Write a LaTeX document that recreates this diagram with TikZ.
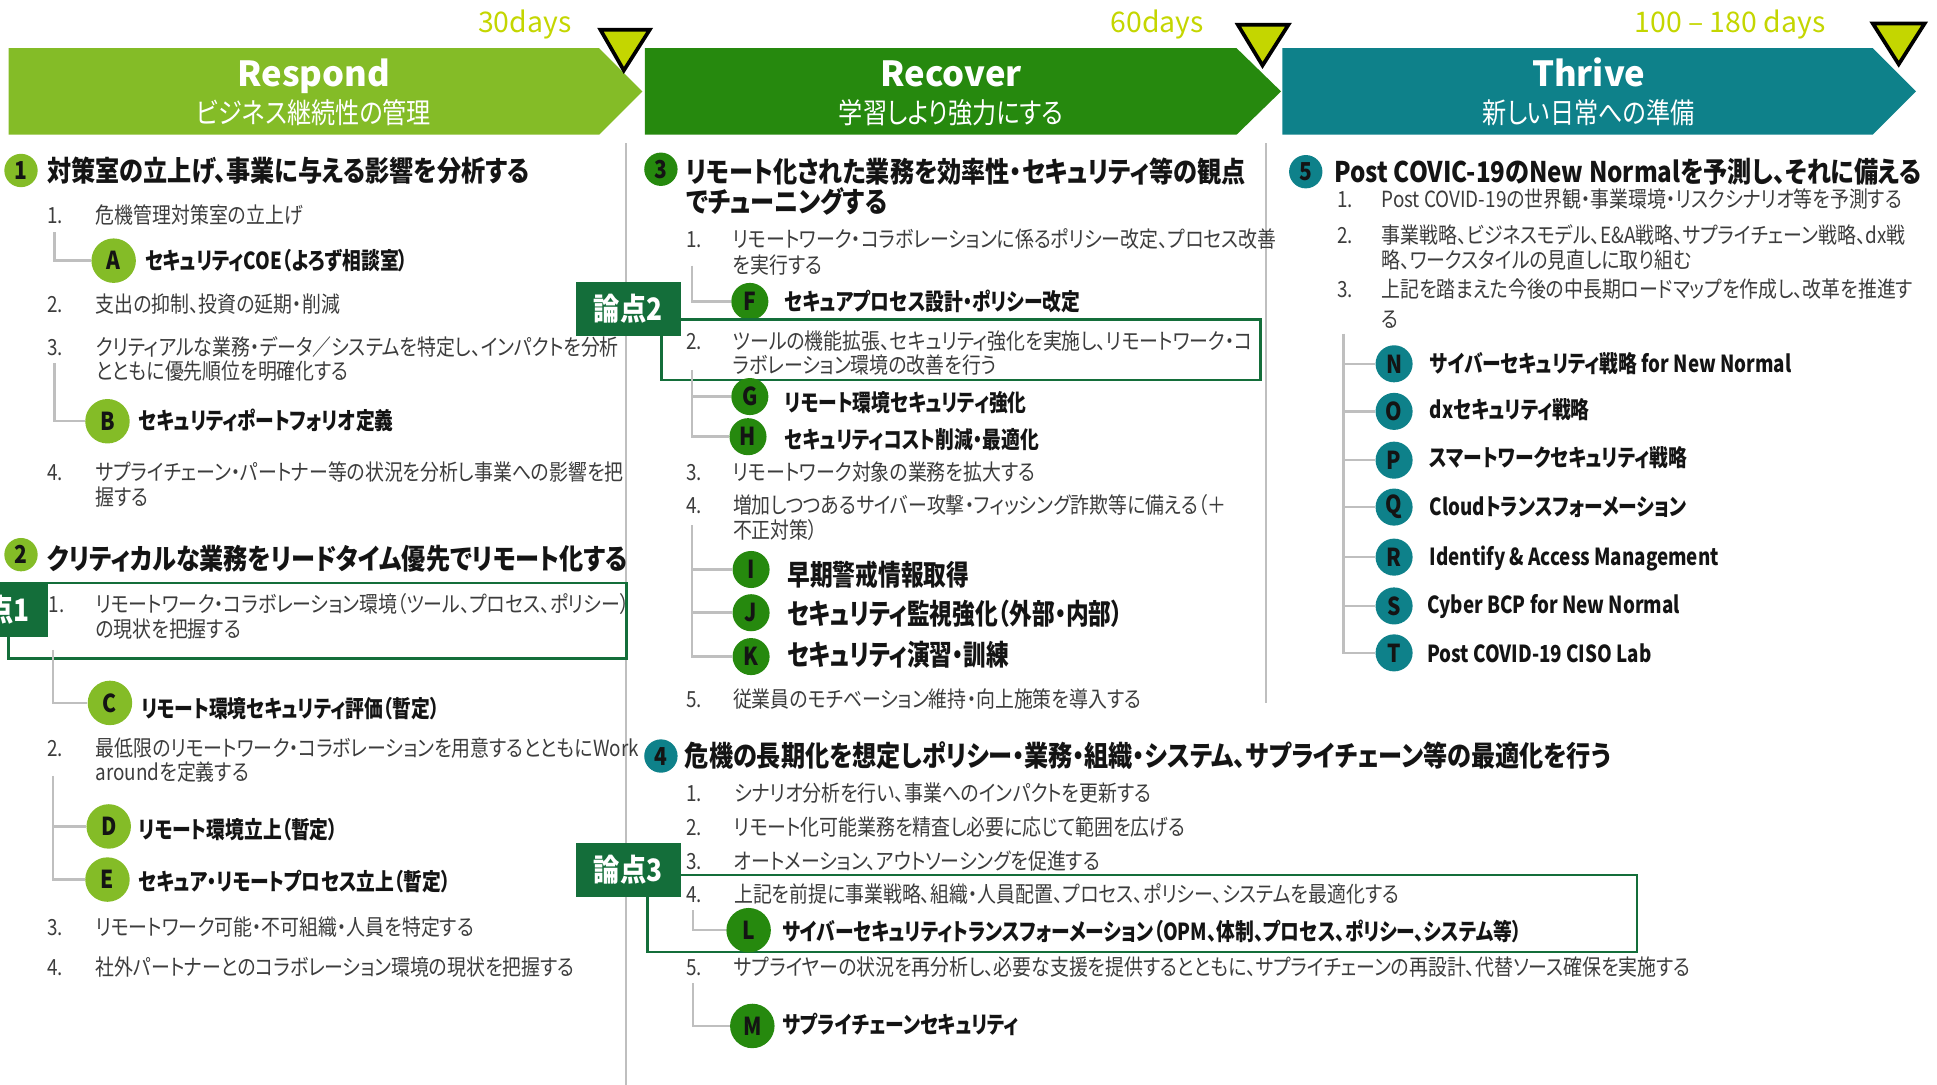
\documentclass[tikz,border=0pt]{standalone}
\usepackage{fontspec}
\setmainfont{Noto Sans CJK JP}[RawFeature=+palt, FakeStretch=0.85]
\newfontfamily\wfont{Noto Sans CJK JP}[RawFeature=+palt]
\newfontfamily\labfont{Noto Sans CJK JP}[RawFeature=+palt, FakeStretch=0.8]

\definecolor{respondc}{HTML}{84BC27}
\definecolor{recoverc}{HTML}{26890E}
\definecolor{thrivec}{HTML}{0E818A}
\definecolor{flagc}{HTML}{C4D600}
\definecolor{rontenc}{HTML}{146E3A}
\definecolor{treegray}{HTML}{BFBFBF}
\definecolor{bodygray}{HTML}{3C3C3C}
\definecolor{inkc}{HTML}{141414}

\tikzset{
	phase/.style={anchor=base, inner sep=0, text=white, font=\wfont\bfseries\fontsize{14}{14}\selectfont},
	phasesub/.style={anchor=base, inner sep=0, text=white, font=\fontsize{11.5}{12}\selectfont},
	days/.style={anchor=base east, inner sep=0, text=flagc, font=\wfont\fontsize{11.5}{11.5}\selectfont},
	flag/.style={fill=flagc, draw=black, line width=1.5pt},
	txt/.style={anchor=base west, inner sep=0, text=bodygray, font=\fontsize{9}{10}\selectfont},
	hd/.style={anchor=base west, inner sep=0, text=inkc, font=\bfseries\fontsize{11.5}{12}\selectfont},
	lab/.style={anchor=base west, inner sep=0, text=inkc, font=\labfont\bfseries\fontsize{9.5}{11}\selectfont},
	labbig/.style={lab, font=\labfont\bfseries\fontsize{11.5}{12}\selectfont},
	secdot/.style={circle, fill=#1, minimum size=13.5pt, inner sep=0, text=inkc, font=\bfseries\fontsize{10}{10}\selectfont},
	dot/.style={circle, fill=#1, minimum size=15pt, inner sep=0, text=inkc, font=\bfseries\fontsize{10}{10}\selectfont},
	dotbig/.style={circle, fill=#1, minimum size=18pt, inner sep=0, text=inkc, font=\bfseries\fontsize{10}{10}\selectfont},
	tree/.style={draw=treegray, line width=1pt},
	divider/.style={draw=treegray, line width=0.8pt},
	focus/.style={draw=rontenc, line width=1pt},
	ronten/.style={fill=rontenc, text=white, inner sep=0, minimum width=42.5pt, minimum height=22pt, font=\bfseries\fontsize{12.5}{12.5}\selectfont}
}

\begin{document}
\begin{tikzpicture}[x=0.5pt,y=-0.5pt]
	\useasboundingbox (0,0) rectangle (1568,878);

	\fill[respondc] (7,39) -- (485,39) -- (520,74) -- (485,109) -- (7,109) -- cycle;
	\fill[recoverc] (522,39) -- (1001,39) -- (1037,74) -- (1001,109) -- (522,109) -- cycle;
	\fill[thrivec] (1038,39) -- (1516,39) -- (1551,74) -- (1516,109) -- (1038,109) -- cycle;
	\node[phase] (rsp) at (254,70) {Respond};
	\node[phasesub] (rspj) at (254,100) {ビジネス継続性の管理};
	\node[phase] (rcv) at (770,70) {Recover};
	\node[phasesub] (rcvj) at (770,100) {学習しより強力にする};
	\node[phase] (thr) at (1286,70) {Thrive};
	\node[phasesub] (thrj) at (1286,100) {新しい日常への準備};
	\node[days] (d30) at (463,26) {30days};
	\node[days] (d60) at (975,26) {60days};
	\node[days] (d180) at (1478,26) {100 – 180 days};
	\draw[flag] (486,24) -- (526,24) -- (505,57) -- cycle;
	\draw[flag] (1002,20) -- (1043,20) -- (1022,53) -- cycle;
	\draw[flag] (1516,19) -- (1558,19) -- (1537,52) -- cycle;

	\draw[divider] (507,116) -- (507,878);
	\draw[divider] (1025,116) -- (1025,569);

	\node[secdot=respondc] (s1) at (17,138) {1};
	\node[hd] (h1) at (38,147) {対策室の立上げ、事業に与える影響を分析する};
	\node[txt] (n11) at (38,181) {1.};
	\node[txt] (t11) at (77,181) {危機管理対策室の立上げ};
	\coordinate (r11) at (44,188);
	\node[dotbig=respondc] (A) at (92,211) {A};
	\node[lab] (la) at (117,218) {セキュリティCOE（よろず相談室）};
	\node[txt] (n12) at (38,253) {2.};
	\node[txt] (t12) at (77,253) {支出の抑制、投資の延期・削減};
	\node[txt] (n13) at (38,288) {3.};
	\node[txt] (t13) at (77,288) {クリティアルな業務・データ／システムを特定し、インパクトを分析};
	\node[txt] (t13b) at (77,307) {とともに優先順位を明確化する};
	\coordinate (r13) at (44,294);
	\node[dotbig=respondc] (B) at (87,341) {B};
	\node[lab] (lb) at (112,348) {セキュリティポートフォリオ定義};
	\node[txt] (n14) at (38,389) {4.};
	\node[txt] (t14) at (77,389) {サプライチェーン・パートナー等の状況を分析し事業への影響を把};
	\node[txt] (t14b) at (77,409) {握する};
	\draw[tree] (r11) |- (A);
	\draw[tree] (r13) |- (B);

	\node[secdot=respondc] (s2) at (17,449) {2};
	\node[hd] (h2) at (38,461) {クリティカルな業務をリードタイム優先でリモート化する};
	\draw[focus] (7,472) rectangle (507,533);
	\begin{scope}
		\clip (0,0) rectangle (1568,878);
		\node[ronten] (pt1) at (-4,493.5) {論点1};
	\end{scope}
	\node[txt] (n21) at (39,496) {1.};
	\node[txt] (t21) at (77,496) {リモートワーク・コラボレーション環境（ツール、プロセス、ポリシー）};
	\node[txt] (t21b) at (77,516) {の現状を把握する};
	\coordinate (r21) at (43,526);
	\node[dotbig=respondc] (C) at (89,569) {C};
	\node[lab] (lc) at (114,581) {リモート環境セキュリティ評価（暫定）};
	\node[txt] (n22) at (38,612) {2.};
	\node[txt] (t22) at (77,612) {最低限のリモートワーク・コラボレーションを用意するとともにWork};
	\node[txt] (t22b) at (77,632) {aroundを定義する};
	\coordinate (r22) at (43,628);
	\node[dotbig=respondc] (D) at (88,669) {D};
	\node[lab] (ld) at (112,679) {リモート環境立上（暫定）};
	\node[dotbig=respondc] (E) at (87,712) {E};
	\node[lab] (le) at (112,721) {セキュア・リモートプロセス立上（暫定）};
	\node[txt] (n23) at (38,757) {3.};
	\node[txt] (t23) at (77,757) {リモートワーク可能・不可組織・人員を特定する};
	\node[txt] (n24) at (38,790) {4.};
	\node[txt] (t24) at (77,790) {社外パートナーとのコラボレーション環境の現状を把握する};
	\draw[tree] (r21) |- (C);
	\draw[tree] (r22) |- (E);
	\draw[tree] (r22 |- D) -- (D);

	\node[secdot=recoverc] (s3) at (535,137) {3};
	\node[hd] (h3) at (555,148) {リモート化された業務を効率性・セキュリティ等の観点};
	\node[hd] (h3b) at (555,172) {でチューニングする};
	\node[txt] (n31) at (555,200) {1.};
	\node[txt] (t31) at (593,200) {リモートワーク・コラボレーションに係るポリシー改定、プロセス改善};
	\node[txt] (t31b) at (593,221) {を実行する};
	\coordinate (r31) at (560,215);
	\node[dot=recoverc] (F) at (607,244) {F};
	\node[lab] (lf) at (635,251) {セキュアプロセス設計・ポリシー改定};
	\draw[focus] (535.5,258.5) rectangle (1020.5,307.5);
	\node[ronten] (pt2) at (508.5,250) {論点2};
	\node[txt] (n32) at (555,283) {2.};
	\node[txt] (t32) at (593,283) {ツールの機能拡張、セキュリティ強化を実施し、リモートワーク・コ};
	\node[txt] (t32b) at (593,302) {ラボレーション環境の改善を行う};
	\coordinate (r32) at (560,299.5);
	\node[dot=recoverc] (G) at (607,321) {G};
	\node[lab] (lg) at (635,333) {リモート環境セキュリティ強化};
	\node[dot=recoverc] (H) at (605.5,353.5) {H};
	\node[lab] (lh) at (635,363) {セキュリティコスト削減・最適化};
	\node[txt] (n33) at (555,389) {3.};
	\node[txt] (t33) at (593,389) {リモートワーク対象の業務を拡大する};
	\node[txt] (n34) at (555,416) {4.};
	\node[txt] (t34) at (593,416) {増加しつつあるサイバー攻撃・フィッシング詐欺等に備える（＋};
	\node[txt] (t34b) at (593,436) {不正対策）};
	\coordinate (r34) at (560,425);
	\node[dot=recoverc] (I) at (608,461) {I};
	\node[labbig] (li) at (637,474) {早期警戒情報取得};
	\node[dot=recoverc] (J) at (608,496) {J};
	\node[labbig] (lj) at (637,505.5) {セキュリティ監視強化（外部・内部）};
	\node[dot=recoverc] (K) at (608,531.5) {K};
	\node[labbig] (lk) at (637,539) {セキュリティ演習・訓練};
	\node[txt] (n35) at (555,573) {5.};
	\node[txt] (t35) at (593,573) {従業員のモチベーション維持・向上施策を導入する};
	\draw[tree] (r31) |- (F);
	\draw[tree] (r32) |- (H);
	\draw[tree] (r32 |- G) -- (G);
	\draw[tree] (r34) |- (K);
	\draw[tree] (r34 |- I) -- (I);
	\draw[tree] (r34 |- J) -- (J);

	\node[secdot=thrivec] (s4) at (535,612) {4};
	\node[hd] (h4) at (554,620.5) {危機の長期化を想定しポリシー・業務・組織・システム、サプライチェーン等の最適化を行う};
	\node[txt] (n41) at (555,649) {1.};
	\node[txt] (t41) at (594,649) {シナリオ分析を行い、事業へのインパクトを更新する};
	\node[txt] (n42) at (555,676) {2.};
	\node[txt] (t42) at (594,676) {リモート化可能業務を精査し必要に応じて範囲を広げる};
	\node[txt] (n43) at (555,703.5) {3.};
	\node[txt] (t43) at (594,703.5) {オートメーション、アウトソーシングを促進する};
	\draw[focus] (524,708.5) rectangle (1325,770.5);
	\node[ronten] (pt3) at (508.5,704) {論点3};
	\node[txt] (n44) at (555,730.5) {4.};
	\node[txt] (t44) at (594,730.5) {上記を前提に事業戦略、組織・人員配置、プロセス、ポリシー、システムを最適化する};
	\coordinate (r44) at (561,737);
	\node[dotbig=recoverc] (L) at (606,753) {L};
	\node[lab] (ll) at (633,761) {サイバーセキュリティトランスフォーメーション（OPM、体制、プロセス、ポリシー、システム等）};
	\node[txt] (n45) at (555,790) {5.};
	\node[txt] (t45) at (594,790) {サプライヤーの状況を再分析し、必要な支援を提供するとともに、サプライチェーンの再設計、代替ソース確保を実施する};
	\coordinate (r45) at (561,796);
	\node[dotbig=recoverc] (M) at (609,830.5) {M};
	\node[lab] (lm) at (633,837) {サプライチェーンセキュリティ};
	\draw[tree] (r44) |- (L);
	\draw[tree] (r45) |- (M);

	\node[secdot=thrivec] (s5) at (1057,139) {5};
	\node[hd] (h5) at (1080,148) {Post COVIC-19のNew Normalを予測し、それに備える};
	\node[txt] (n51) at (1082,168) {1.};
	\node[txt] (t51) at (1118,168) {Post COVID-19の世界観・事業環境・リスクシナリオ等を予測する};
	\node[txt] (n52) at (1082,197) {2.};
	\node[txt] (t52) at (1118,197) {事業戦略、ビジネスモデル、E\&A戦略、サプライチェーン戦略、dx戦};
	\node[txt] (t52b) at (1118,217) {略、ワークスタイルの見直しに取り組む};
	\node[txt] (n53) at (1082,241) {3.};
	\node[txt] (t53) at (1118,241) {上記を踏まえた今後の中長期ロードマップを作成し、改革を推進す};
	\node[txt] (t53b) at (1118,265) {る};
	\coordinate (r53) at (1087.5,270);
	\node[dot=thrivec] (N) at (1128.5,294.5) {N};
	\node[lab] (ln) at (1157,301.5) {サイバーセキュリティ戦略 for New Normal};
	\node[dot=thrivec] (O) at (1128.5,333) {O};
	\node[lab] (lo) at (1157,339) {dxセキュリティ戦略};
	\node[dot=thrivec] (P) at (1128.5,372.5) {P};
	\node[lab] (lp) at (1157,377.5) {スマートワークセキュリティ戦略};
	\node[dot=thrivec] (Q) at (1128.5,410.5) {Q};
	\node[lab] (lq) at (1157,417) {Cloudトランスフォーメーション};
	\node[dot=thrivec] (R) at (1128.5,451) {R};
	\node[lab] (lr) at (1157,457.5) {Identify \& Access Management};
	\node[dot=thrivec] (S) at (1128.5,490.5) {S};
	\node[lab] (ls) at (1155,497) {Cyber BCP for New Normal};
	\node[dot=thrivec] (T) at (1128.5,528.5) {T};
	\node[lab] (lt) at (1155,536) {Post COVID-19 CISO Lab};
	\draw[tree] (r53) |- (T);
	\foreach \k in {N,O,P,Q,R,S}
		\draw[tree] (r53 |- \k) -- (\k);
\end{tikzpicture}
\end{document}
